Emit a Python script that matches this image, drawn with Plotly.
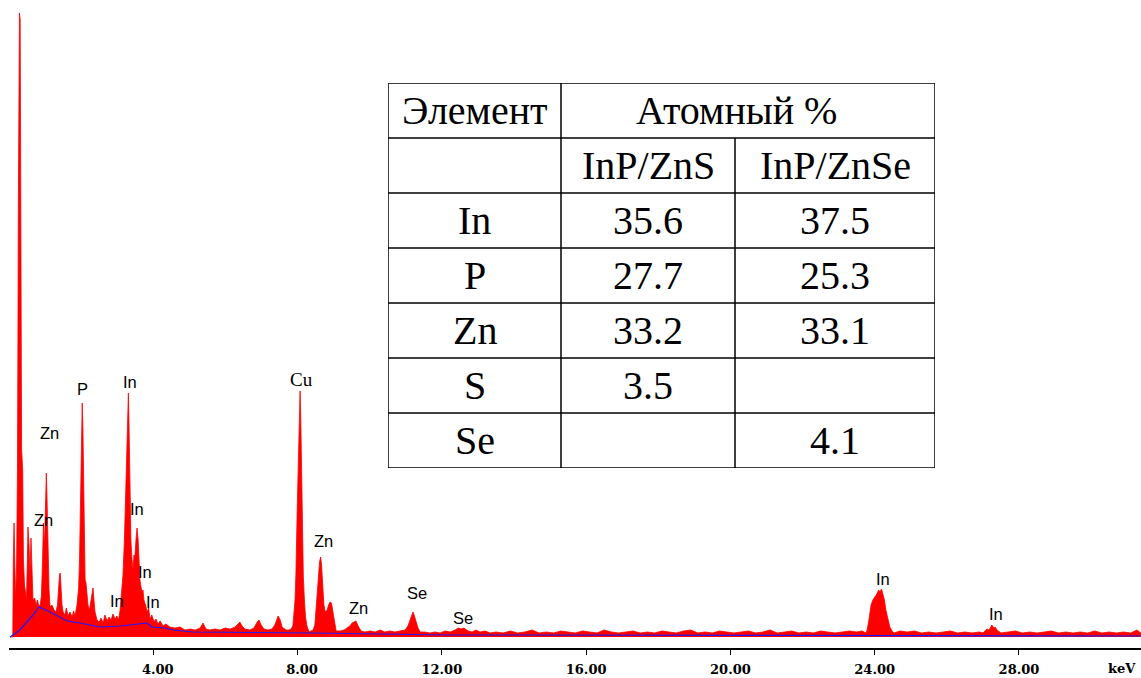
import plotly.graph_objects as go

# ---------------- EDS spectrum (energy in keV, counts) ----------------
ENERGY_LOW = [
    0.03, 0.105, 0.12, 0.14, 0.16, 0.18, 0.21, 0.235, 0.26, 0.29, 0.31, 0.335, 0.35, 0.38, 0.40,
    0.43, 0.46, 0.485, 0.51, 0.525, 0.555, 0.58, 0.61, 0.64, 0.665, 0.71, 0.75, 0.79, 0.83, 0.87,
    0.90, 0.93, 0.955, 0.985, 1.01, 1.035, 1.055, 1.08, 1.11, 1.14, 1.19, 1.25, 1.30, 1.345, 1.37,
    1.40, 1.42, 1.44, 1.47, 1.50, 1.55, 1.59, 1.635, 1.69, 1.75, 1.79, 1.83, 1.885, 1.93, 1.955,
    1.98, 2.01, 2.03, 2.05, 2.08, 2.11, 2.135, 2.16, 2.19, 2.23, 2.27, 2.30, 2.33, 2.355, 2.385,
    2.44, 2.50, 2.55, 2.61, 2.66, 2.72, 2.77, 2.83, 2.88, 2.94, 2.99, 3.035, 3.08, 3.12, 3.16,
    3.20, 3.23, 3.26, 3.285, 3.31, 3.325, 3.355, 3.38, 3.41, 3.44, 3.465, 3.49, 3.52, 3.55, 3.58,
    3.605, 3.63, 3.66, 3.69, 3.715, 3.74, 3.785, 3.83, 3.87, 3.91, 3.96, 4.02, 4.075, 4.13, 4.19,
    4.27, 4.35, 4.46, 4.60, 4.74, 4.88, 5.02, 5.16, 5.30, 5.38, 5.46, 5.57, 5.71, 5.85, 5.99,
    6.13, 6.27, 6.35, 6.40, 6.46, 6.54, 6.68, 6.79, 6.88, 6.93, 6.99, 7.07, 7.18, 7.29, 7.37,
    7.46, 7.52, 7.57, 7.68, 7.76,
]
COUNTS_LOW = [
    0, 0, 770, 1140, 770, 370, 720, 1670, 4370, 6240, 6170, 3370, 1870, 1670, 770,
    520, 420, 370, 770, 1100, 920, 620, 990, 520, 370, 390, 320, 370, 300, 330,
    420, 770, 1140, 920, 1270, 1640, 1370, 870, 470, 300, 320, 270, 250, 320, 470,
    620, 640, 470, 320, 250, 220, 290, 210, 250, 200, 260, 210, 320, 490, 770,
    1370, 1970, 2340, 2070, 1070, 570, 540, 400, 320, 270, 370, 450, 490, 370, 250,
    170, 150, 190, 140, 220, 160, 200, 170, 230, 180, 210, 170, 270, 420, 620,
    970, 1370, 1870, 2270, 2440, 2170, 1500, 970, 770, 670, 820, 800, 970, 1090, 970,
    650, 570, 500, 450, 470, 370, 320, 250, 290, 180, 220, 150, 180, 130, 160,
    110, 130, 100, 90, 100, 70, 80, 70, 90, 140, 80, 70, 80, 70, 90,
    80, 100, 130, 150, 110, 80, 70, 90, 150, 170, 120, 80, 70, 80, 120,
    210, 170, 100, 70, 70,
]

ENERGY_MID = [
    7.82, 7.87, 7.93, 7.955, 7.99, 8.015, 8.04, 8.07, 8.09, 8.11, 8.13, 8.16, 8.19, 8.22, 8.26,
    8.32, 8.37, 8.43, 8.48, 8.52, 8.56, 8.585, 8.61, 8.64, 8.665, 8.69, 8.73, 8.77, 8.82, 8.86,
    8.90, 8.94, 8.98, 9.02, 9.07, 9.18, 9.29, 9.37, 9.45, 9.51, 9.57, 9.62, 9.68, 9.76, 9.87,
    10.01, 10.15, 10.29, 10.42, 10.56, 10.70, 10.84, 10.98, 11.06, 11.12, 11.17, 11.20, 11.24, 11.28, 11.34,
    11.40, 11.53, 11.67, 11.81, 11.95, 12.09, 12.23, 12.37, 12.45, 12.53, 12.61, 12.73, 12.84, 12.95, 13.06,
    13.20, 13.34,
]
COUNTS_MID = [
    80, 110, 370, 640, 1270, 1770, 2170, 2460, 2170, 1670, 1170, 600, 370, 200, 110,
    50, 60, 70, 120, 320, 440, 650, 750, 800, 720, 570, 320, 250, 270, 320,
    350, 340, 250, 130, 60, 60, 70, 90, 110, 140, 150, 160, 110, 60, 50,
    60, 50, 70, 50, 60, 50, 60, 70, 110, 170, 230, 250, 210, 150, 90,
    50, 50, 40, 50, 40, 60, 50, 70, 90, 80, 90, 60, 50, 70, 50,
    60, 40,
]

ENERGY_HIGH = [
    13.5, 13.7, 13.9, 14.1, 14.3, 14.5, 14.7, 14.9, 15.1, 15.3, 15.5, 15.7, 15.9, 16.1, 16.3,
    16.5, 16.7, 16.9, 17.1, 17.3, 17.5, 17.7, 17.9, 18.1, 18.3, 18.5, 18.7, 18.9, 19.1, 19.3,
    19.5, 19.7, 19.9, 20.1, 20.3, 20.5, 20.7, 20.9, 21.1, 21.3, 21.5, 21.7, 21.9, 22.1, 22.3,
    22.5, 22.7, 22.9, 23.1, 23.3, 23.5, 23.65,
    23.76, 23.79, 23.84, 23.90, 23.95, 24.01, 24.06, 24.11, 24.15, 24.19, 24.23, 24.27, 24.31, 24.37, 24.42,
    24.48, 24.54,
    24.7, 24.9, 25.1, 25.3, 25.5, 25.7, 25.9, 26.1, 26.3, 26.5, 26.7, 26.9,
    27.00, 27.06, 27.11, 27.17, 27.21, 27.25, 27.30, 27.34, 27.39, 27.45, 27.50,
    27.7, 27.9, 28.1, 28.3, 28.5, 28.7, 28.9, 29.1, 29.3, 29.5, 29.7, 29.9, 30.1, 30.3, 30.5,
    30.7, 30.9, 31.1, 31.27, 31.38,
]
COUNTS_HIGH = [
    50, 40, 60, 40, 50, 70, 40, 50, 40, 60, 50, 40, 60, 50, 40,
    70, 50, 40, 50, 60, 40, 50, 40, 60, 50, 40, 60, 70, 40, 50,
    40, 60, 50, 40, 50, 60, 40, 50, 70, 40, 50, 60, 40, 50, 40,
    60, 50, 40, 50, 60, 50, 60,
    40, 70, 170, 320, 370, 400, 430, 470, 450, 480, 420, 370, 270, 170, 100,
    60, 40,
    60, 50, 60, 40, 50, 40, 50, 60, 40, 50, 40, 50,
    40, 60, 80, 70, 100, 120, 90, 100, 70, 50, 40,
    50, 60, 40, 50, 40, 50, 60, 40, 50, 40, 50, 40, 60, 40, 50,
    40, 50, 40, 70, 40,
]

# Fitted background (blue curve)
BG_ENERGY = [0.03, 0.30, 0.665, 0.83, 1.14, 1.61, 1.97, 2.33, 2.52, 3.08, 3.83, 3.96, 4.32, 4.55,
             5.10, 8.43, 12.14, 13.61, 31.38]
BG_COUNTS = [0, 70, 220, 300, 250, 160, 140, 110, 100, 110, 140, 100, 90, 70,
             50, 40, 20, 20, 10]

# Peak identification labels
PEAK_NAMES = ["Zn", "Zn", "P", "In", "In", "In", "In", "In", "Cu", "Zn", "Zn", "Se", "Se", "In", "In"]
PEAK_KEV = [1.13, 0.97, 2.04, 3.35, 3.55, 3.77, 2.99, 3.99, 8.12, 8.73, 9.68, 11.31, 12.59, 24.23, 27.36]
PEAK_LABEL_COUNTS = [2040, 1170, 2480, 2550, 1280, 650, 360, 350, 2580, 960, 290, 440, 190, 580, 230]

# Axis ticks (single-digit labels padded with a figure space so they sit right-aligned)
TICK_KEV = [4, 8, 12, 16, 20, 24, 28]
TICK_TEXT = ["\u20074.00", "\u20078.00", "12.00", "16.00", "20.00", "24.00", "28.00"]

# ---------------- composition table ----------------
TABLE_HEAD = ["Элемент", "Атомный %"]
SAMPLES = ["InP/ZnS", "InP/ZnSe"]
ELEMENTS = ["In", "P", "Zn", "S", "Se"]
INP_ZNS = [35.6, 27.7, 33.2, 3.5, None]
INP_ZNSE = [37.5, 25.3, 33.1, None, 4.1]

energy = ENERGY_LOW + ENERGY_MID + ENERGY_HIGH
counts = COUNTS_LOW + COUNTS_MID + COUNTS_HIGH

fig = go.Figure()
fig.add_trace(go.Scatter(
    x=energy, y=counts, mode="lines", fill="tozeroy",
    line=dict(color="#ff0000", width=0.8), fillcolor="#ff0000",
    hoverinfo="skip", showlegend=False,
))
fig.add_trace(go.Scatter(
    x=BG_ENERGY, y=BG_COUNTS, mode="lines",
    line=dict(color="#1a1aff", width=1.2),
    hoverinfo="skip", showlegend=False,
))

annotations = []
for name, e, c in zip(PEAK_NAMES, PEAK_KEV, PEAK_LABEL_COUNTS):
    serif = name == "Cu"
    annotations.append(dict(
        x=e, y=c, xref="x", yref="y", text=name, showarrow=False,
        xanchor="center", yanchor="middle",
        font=dict(family="Liberation Serif" if serif else "Liberation Sans",
                  size=19 if serif else 16.5, color="black"),
    ))

annotations.append(dict(
    x=0.983, y=-0.031, xref="paper", yref="paper", text="<b>keV</b>",
    showarrow=False, xanchor="center", yanchor="middle",
    font=dict(family="DejaVu Serif", size=13, color="black"),
))

# Table grid in its own axes (x2/y2): column widths and row height
COL_W = [173, 174, 200]
ROW_H = 55
n_rows = 2 + len(ELEMENTS)
col_edges = [0, COL_W[0], COL_W[0] + COL_W[1], sum(COL_W)]
tw, th = sum(COL_W), ROW_H * n_rows

shapes = [dict(type="rect", xref="x2", yref="y2", x0=0, x1=tw, y0=0, y1=th,
               line=dict(color="black", width=1.5), fillcolor="white", layer="below")]
for r in range(1, n_rows):
    shapes.append(dict(type="line", xref="x2", yref="y2", x0=0, x1=tw, y0=r * ROW_H, y1=r * ROW_H,
                       line=dict(color="black", width=1.5)))
shapes.append(dict(type="line", xref="x2", yref="y2", x0=col_edges[1], x1=col_edges[1], y0=0, y1=th,
                   line=dict(color="black", width=1.5)))
shapes.append(dict(type="line", xref="x2", yref="y2", x0=col_edges[2], x1=col_edges[2], y0=ROW_H, y1=th,
                   line=dict(color="black", width=1.5)))

tfont = dict(family="Liberation Serif", size=40, color="black")
col_c = [(col_edges[i] + col_edges[i + 1]) / 2 for i in range(3)]


def cell(text, xc, row):
    annotations.append(dict(x=xc, y=(row + 0.5) * ROW_H, xref="x2", yref="y2", text=text,
                            showarrow=False, xanchor="center", yanchor="middle", font=tfont))


cell(TABLE_HEAD[0], col_c[0], 0)
cell(TABLE_HEAD[1], (col_edges[1] + col_edges[3]) / 2 - 12, 0)
cell(SAMPLES[0], col_c[1], 1)
cell(SAMPLES[1], col_c[2], 1)
for i, el in enumerate(ELEMENTS):
    cell(el, col_c[0], 2 + i)
    if INP_ZNS[i] is not None:
        cell(f"{INP_ZNS[i]:.1f}", col_c[1], 2 + i)
    if INP_ZNSE[i] is not None:
        cell(f"{INP_ZNSE[i]:.1f}", col_c[2], 2 + i)

W, H = 1141, 678
ML, MB = 9, 30
pw, ph = W - ML, H - MB

fig.update_layout(
    width=W, height=H,
    margin=dict(l=ML, r=0, t=0, b=MB),
    paper_bgcolor="white", plot_bgcolor="white",
    showlegend=False,
    xaxis=dict(
        range=[0, pw / 36.07], showgrid=False, zeroline=False,
        showline=True, linecolor="black", linewidth=1.5,
        ticks="outside", ticklen=5, tickwidth=1.2, tickcolor="black",
        tickvals=TICK_KEV, ticktext=[f"<b>{t}</b>" for t in TICK_TEXT],
        tickfont=dict(family="DejaVu Serif", size=13, color="black"),
        ticklabelstandoff=4,
    ),
    yaxis=dict(range=[-110, 6370], visible=False, showgrid=False, zeroline=False),
    xaxis2=dict(domain=[(388 - ML) / pw, (935 - ML) / pw], range=[0, tw],
                visible=False, showgrid=False, zeroline=False, anchor="y2"),
    yaxis2=dict(domain=[(ph - 468) / ph, (ph - 83) / ph], range=[th, 0],
                visible=False, showgrid=False, zeroline=False, anchor="x2"),
    shapes=shapes,
    annotations=annotations,
)

fig.write_html("out.html")
